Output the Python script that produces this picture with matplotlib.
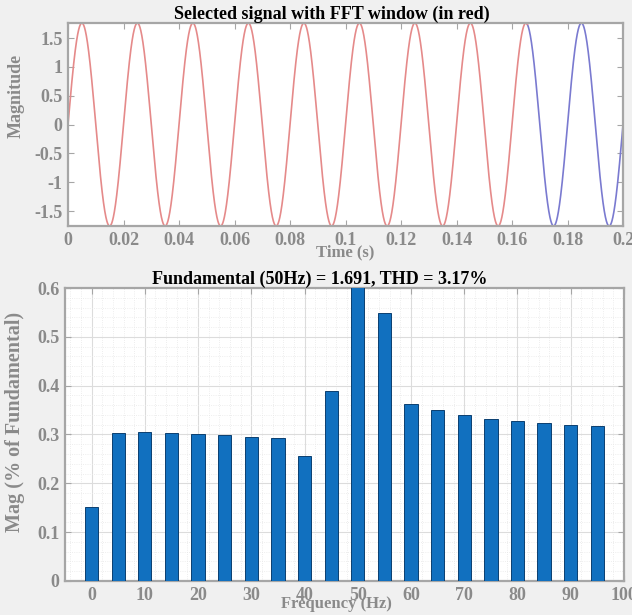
import numpy as np
import matplotlib
matplotlib.use("Agg")
import matplotlib.pyplot as plt
from matplotlib.ticker import MultipleLocator

# ---- data ----
signal_freq_hz = 50.0
signal_amplitude = 1.76
t_start, t_end = 0.0, 0.2
fft_window_end = 0.1655
time_ticks = [0, 0.02, 0.04, 0.06, 0.08, 0.1, 0.12, 0.14, 0.16, 0.18, 0.2]
time_tick_labels = ["0", "0.02", "0.04", "0.06", "0.08", "0.1", "0.12", "0.14", "0.16", "0.18", "0.2"]
mag_ticks = [-1.5, -1, -0.5, 0, 0.5, 1, 1.5]
mag_tick_labels = ["-1.5", "-1", "-0.5", "0", "0.5", "1", "1.5"]

freqs = [0, 5, 10, 15, 20, 25, 30, 35, 40, 45, 50, 55, 60, 65, 70, 75, 80, 85, 90, 95]
mags = [0.151, 0.304, 0.306, 0.304, 0.301, 0.299, 0.294, 0.292, 0.256, 0.390,
        100.0, 0.549, 0.363, 0.351, 0.339, 0.332, 0.327, 0.323, 0.320, 0.317]
freq_ticks = [0, 10, 20, 30, 40, 50, 60, 70, 80, 90, 100]
pct_ticks = [0, 0.1, 0.2, 0.3, 0.4, 0.5, 0.6]
pct_tick_labels = ["0", "0.1", "0.2", "0.3", "0.4", "0.5", "0.6"]

title_top = "Selected signal with FFT window (in red)"
title_bottom = "Fundamental (50Hz) = 1.691, THD = 3.17%"

# ---- style ----
BG = "#f0f0f0"
GRAY = "#8a8a8a"
SPINE = "#a6a6a6"
FONT = ["Liberation Serif", "DejaVu Serif"]
plt.rcParams["font.family"] = FONT

fig = plt.figure(figsize=(6.32, 6.15), dpi=100, facecolor=BG)

# ---- top: time signal ----
ax1 = fig.add_axes([0.1076, 0.6325, 0.8782, 0.3300])
t = np.linspace(t_start, t_end, 4001)
y = signal_amplitude * np.sin(2 * np.pi * signal_freq_hz * t)
win = t <= fft_window_end
split = int(win.sum()) - 1
ax1.plot(t[split:], y[split:], color="#7a7ad0", lw=1.2)
ax1.plot(t[win], y[win], color="#e58a8a", lw=1.2)
ax1.set_xlim(t_start, t_end)
ax1.set_ylim(-signal_amplitude, signal_amplitude)
ax1.set_xticks(time_ticks)
ax1.set_xticklabels(time_tick_labels)
ax1.set_yticks(mag_ticks)
ax1.set_yticklabels(mag_tick_labels)
ax1.set_title(title_top, fontsize=13, fontweight="bold", color="black", pad=2, x=0.476)
ax1.set_xlabel("Time (s)", fontsize=12, fontweight="bold", color=GRAY, labelpad=-3)
ax1.set_ylabel("Magnitude", fontsize=13, fontweight="bold", color=GRAY)
ax1.yaxis.set_label_coords(-0.0775, 0.642)

# ---- bottom: FFT spectrum ----
ax2 = fig.add_axes([0.1028, 0.0553, 0.8845, 0.4764])
ax2.bar(freqs, mags, width=2.5, color="#1170bf", edgecolor="#0b3f70", linewidth=0.7, zorder=3)
ax2.set_xlim(-5, 100)
ax2.set_ylim(0, 0.6)
ax2.set_xticks(freq_ticks)
ax2.set_yticks(pct_ticks)
ax2.set_yticklabels(pct_tick_labels)
ax2.xaxis.set_minor_locator(MultipleLocator(2))
ax2.yaxis.set_minor_locator(MultipleLocator(0.02))
ax2.grid(which="major", color="#dcdcdc", lw=0.8, zorder=0)
ax2.grid(which="minor", color="#e8e8e8", lw=0.6, ls=":", zorder=0)
ax2.set_axisbelow(True)
ax2.set_title(title_bottom, fontsize=13, fontweight="bold", color="black", pad=2, x=0.456)
ax2.set_xlabel("Frequency (Hz)", fontsize=12, fontweight="bold", color=GRAY)
ax2.xaxis.set_label_coords(0.485, -0.05)
ax2.xaxis.label.set_va("top")
ax2.set_ylabel("Mag (% of Fundamental)", fontsize=14.5, fontweight="bold", color=GRAY)
ax2.yaxis.set_label_coords(-0.0716, 0.543)

for ax in (ax1, ax2):
    ax.set_facecolor("white")
    for s in ax.spines.values():
        s.set_color(SPINE)
        s.set_linewidth(1.6)
    ax.tick_params(which="both", direction="in", top=True, right=True,
                   colors=SPINE, labelcolor=GRAY, labelsize=13)
    ax.tick_params(which="major", length=4, width=0.8, pad=4)
    ax.tick_params(which="minor", length=0)
    for lbl in ax.get_xticklabels() + ax.get_yticklabels():
        lbl.set_fontweight("bold")

fig.savefig("out.png", dpi=100, facecolor=BG)
